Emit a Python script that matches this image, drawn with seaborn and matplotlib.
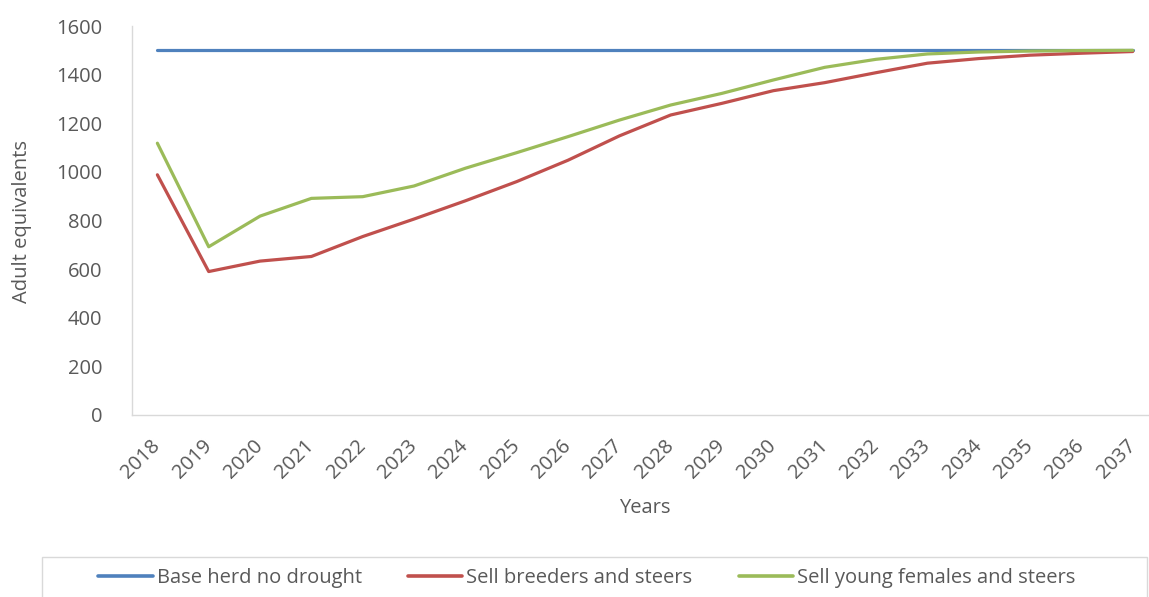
import pandas as pd
import numpy as np
import matplotlib.pyplot as plt
import seaborn as sns
from matplotlib.patches import Rectangle

years = [str(y) for y in range(2018, 2038)]
base_herd = [1500] * 20
sell_breeders = [988, 590, 633, 652, 734, 806, 881, 960, 1048, 1148,
                 1234, 1282, 1334, 1367, 1408, 1447, 1466, 1480, 1488, 1495]
sell_young = [1118, 692, 818, 891, 898, 942, 1015, 1079, 1145, 1213,
              1275, 1323, 1378, 1430, 1463, 1485, 1493, 1497, 1499, 1500]

series_names = ["Base herd no drought", "Sell breeders and steers", "Sell young females and steers"]
colors = ["#4f81bd", "#c0504d", "#9bbb59"]

df = pd.DataFrame({
    "Years": years * 3,
    "Adult equivalents": base_herd + sell_breeders + sell_young,
    "Series": [series_names[0]] * 20 + [series_names[1]] * 20 + [series_names[2]] * 20,
})

sns.set_style("white")
plt.rcParams["font.family"] = ["Open Sans", "DejaVu Sans"]
text_color = "#595959"
axis_color = "#d9d9d9"
fs = 14.5

W, H = 1149, 597
fig = plt.figure(figsize=(W / 100, H / 100), dpi=100)
ax = fig.add_axes([131.7 / W, (H - 415) / H, 1026.7 / W, 389 / H])

sns.lineplot(data=df, x="Years", y="Adult equivalents", hue="Series",
             palette=colors, linewidth=2.3, ax=ax, legend=False, sort=False)

ax.set_xlim(-0.5, 19.5)
ax.set_ylim(0, 1600)
ax.set_yticks(np.arange(0, 1601, 200))
ax.set_xticks(range(20))
ax.set_xticklabels(years, rotation=45, ha="right", va="center", rotation_mode="anchor")
ax.set_xticks(np.arange(-0.5, 20, 1), minor=True)
ax.tick_params(axis="x", which="major", length=0, pad=20, labelsize=fs, labelcolor=text_color)
ax.tick_params(axis="x", which="minor", length=5, color=axis_color, width=1, direction="out")
ax.tick_params(axis="y", length=5, color=axis_color, width=1, direction="out",
               labelsize=fs, labelcolor=text_color, pad=16)

for side in ["top", "right"]:
    ax.spines[side].set_visible(False)
for side in ["left", "bottom"]:
    ax.spines[side].set_color(axis_color)
    ax.spines[side].set_linewidth(1)

ax.set_xlabel("Years", fontsize=fs, color=text_color, va="center")
ax.set_ylabel("Adult equivalents", fontsize=fs, color=text_color, va="center")
ax.xaxis.set_label_coords(645 / W, (H - 508) / H, transform=fig.transFigure)
ax.yaxis.set_label_coords(22 / W, (H - 222) / H, transform=fig.transFigure)

# legend box, cut off at the bottom of the figure
fig.patches.append(Rectangle((42 / W, -0.05), (1147 - 42) / W, 0.05 + (H - 557) / H,
                             transform=fig.transFigure, fill=False,
                             edgecolor=axis_color, linewidth=1))
handles = [plt.Line2D([], [], color=c, linewidth=2.6) for c in colors]
leg = fig.legend(handles, series_names, loc="center left",
                 bbox_to_anchor=(80 / W, (H - 578) / H), ncol=3, frameon=False,
                 fontsize=fs, handlelength=2.7, handletextpad=0.2, columnspacing=2.3)
for t in leg.get_texts():
    t.set_color(text_color)

fig.savefig("out.png", dpi=100)
